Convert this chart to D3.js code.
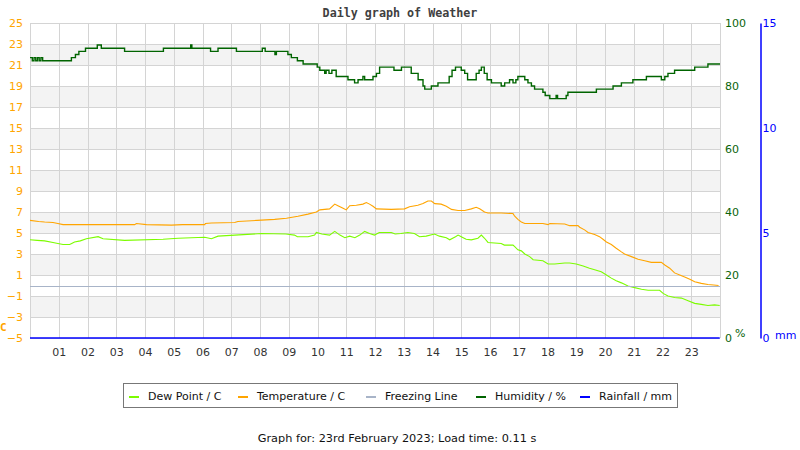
<!DOCTYPE html>
<html><head><meta charset="utf-8">
<script src="https://cdn.jsdelivr.net/npm/d3@7"></script>
<style>
body{margin:0;background:#fff;}
svg{display:block;font-family:"DejaVu Sans",sans-serif;}
</style></head>
<body><svg id="chart" width="800" height="450"></svg>
<script>
// ---------- data ----------
const hourLabels = ["01","02","03","04","05","06","07","08","09","10","11","12","13","14","15","16","17","18","19","20","21","22","23"];
const tempTicks = [25,23,21,19,17,15,13,11,9,7,5,3,1,-1,-3,-5];
const humTicks = [100,80,60,40,20,0];
const rainTicks = [15,10,5,0];

const tempTimes = [0,0.3,0.51,0.8,0.97,1.15,3.64,3.7,4.05,4.92,5.3,6.08,6.1,6.31,7.12,7.23,7.9,8.51,8.92,9.32,9.67,9.96,10.08,10.42,10.6,10.71,10.89,11.0,11.12,11.35,11.58,11.7,11.81,11.93,12.05,12.57,13.03,13.2,13.49,13.67,13.84,13.96,14.08,14.3,14.48,14.66,14.89,15.12,15.35,15.52,15.64,15.81,15.93,16.39,16.8,16.86,16.97,17.09,17.21,17.84,18.02,18.08,18.6,18.77,19.06,19.12,19.29,19.41,19.64,19.81,19.93,20.05,20.22,20.39,20.57,20.68,20.92,21.15,21.38,21.61,21.96,22.08,22.25,22.42,22.6,22.77,22.95,23.12,23.35,23.58,23.78,23.95];
const tempValues = [6.2,6.1,6.05,6.0,5.9,5.8,5.8,5.9,5.8,5.75,5.8,5.8,5.9,5.95,6.0,6.1,6.2,6.3,6.4,6.6,6.8,7.0,7.2,7.3,7.75,7.6,7.35,7.2,7.6,7.65,7.75,7.9,7.75,7.55,7.3,7.25,7.3,7.5,7.65,7.8,8.05,8.05,7.8,7.75,7.55,7.25,7.15,7.15,7.3,7.45,7.3,7.0,6.9,6.9,6.85,6.6,6.3,6.05,5.9,5.9,5.8,5.9,5.85,5.7,5.7,5.55,5.3,5.05,4.85,4.65,4.4,4.15,3.9,3.55,3.2,3.0,2.75,2.5,2.35,2.2,2.2,1.95,1.65,1.2,1.0,0.8,0.6,0.35,0.2,0.1,0.05,0.0];

const dewTimes = [0,0.25,0.51,0.8,0.97,1.15,1.38,1.45,1.55,1.75,1.96,2.37,2.54,3.29,4.63,5.15,6.08,6.31,6.54,7.12,8.05,8.9,9.2,9.3,9.67,9.9,9.96,10.15,10.42,10.6,10.78,10.95,11.12,11.3,11.47,11.64,11.81,11.98,12.15,12.57,12.7,12.9,13.14,13.37,13.55,13.78,14.07,14.24,14.48,14.6,14.8,14.89,15.0,15.17,15.35,15.58,15.7,15.81,15.93,16.39,16.5,16.8,16.86,16.97,17.09,17.21,17.38,17.5,17.84,18.02,18.25,18.6,18.77,19.0,19.24,19.46,19.64,19.87,20.05,20.22,20.39,20.57,20.8,21.03,21.27,21.5,21.9,22.02,22.19,22.42,22.66,22.89,23.12,23.35,23.58,23.81,23.99];
const dewValues = [4.35,4.3,4.25,4.1,4.0,3.9,3.9,4.0,4.15,4.25,4.45,4.65,4.45,4.3,4.4,4.5,4.6,4.45,4.7,4.8,4.95,4.9,4.8,4.65,4.65,4.8,5.05,4.9,4.8,5.15,4.8,4.55,4.7,4.55,4.8,5.15,4.95,4.8,5.05,5.05,4.9,4.95,5.05,4.95,4.65,4.7,4.9,4.7,4.55,4.35,4.65,4.8,4.65,4.4,4.35,4.5,4.8,4.5,4.1,4.0,3.85,3.85,3.7,3.4,3.3,3.0,2.75,2.45,2.35,2.05,2.05,2.15,2.15,2.05,1.85,1.65,1.5,1.3,1.0,0.7,0.45,0.25,-0.05,-0.2,-0.35,-0.45,-0.45,-0.75,-1.0,-1.15,-1.2,-1.45,-1.7,-1.8,-1.9,-1.85,-1.9];

const humTimes = [0,0.08,0.14,0.2,0.26,0.32,0.38,0.44,0.5,1.44,1.58,1.7,1.93,2.34,2.48,3.29,4.64,5.59,5.63,6.28,6.54,7.18,8.08,8.18,8.52,8.57,8.97,9.09,9.3,9.5,9.99,10.08,10.25,10.3,10.4,10.5,10.65,11.06,11.29,11.41,11.58,11.64,11.93,12.05,12.16,12.66,12.92,13.26,13.5,13.67,13.73,13.96,14.19,14.58,14.68,14.8,15.0,15.12,15.22,15.52,15.62,15.7,15.8,15.9,16.05,16.39,16.51,16.68,16.8,16.9,16.97,17.21,17.32,17.44,17.55,17.84,17.92,18.08,18.3,18.35,18.65,18.71,19.7,20.28,20.57,20.97,21.44,21.96,22.08,22.19,22.42,23.12,23.58,24];
const humValues = [89,88,89,88,89,88,89,88,88,89,90,91,92,93,92,91,92,93,92,91,92,91,92,91,90,91,90,89,88,87,86,85,84,85,84,85,83,82,81,82,83,82,83,84,86,85,86,84,82,80,79,80,81,83,85,86,85,84,82,84,85,86,84,82,81,80,81,82,81,82,83,82,81,80,79,78,77,76,77,76,77,78,79,80,81,82,83,82,83,84,85,86,87,87];

const rainTimes = [0,23.99];
const rainValues = [0,0];
const freezingValue = 0;

// ---------- layout ----------
const svg = d3.select("#chart");
const L = 30, R = 720, T = 23, B = 338;
const x = d3.scaleLinear().domain([0,24]).range([L,R]);
const yT = d3.scaleLinear().domain([-5,25]).range([B,T]);
const yH = d3.scaleLinear().domain([0,100]).range([B,T]);
const yR = d3.scaleLinear().domain([0,15]).range([B,T]);

const grid = "#d4d4d4";

// bands
for (let i = 1; i < tempTicks.length - 1; i += 2) {
  svg.append("rect")
    .attr("x", L).attr("width", R - L)
    .attr("y", yT(tempTicks[i])).attr("height", yT(tempTicks[i+1]) - yT(tempTicks[i]))
    .attr("fill", "#f3f3f3");
}
// horizontal grid
svg.append("g").selectAll("line").data(tempTicks).join("line")
  .attr("x1", L).attr("x2", R)
  .attr("y1", d => Math.round(yT(d)) + 0.5).attr("y2", d => Math.round(yT(d)) + 0.5)
  .attr("stroke", grid).attr("stroke-width", 1);
// vertical grid
const hourVals = d3.range(0, 25);
svg.append("g").selectAll("line").data(hourVals).join("line")
  .attr("x1", d => Math.round(x(d)) + 0.5).attr("x2", d => Math.round(x(d)) + 0.5)
  .attr("y1", T).attr("y2", B)
  .attr("stroke", grid).attr("stroke-width", 1);

// title
svg.append("text").attr("x", 400).attr("y", 17).attr("text-anchor", "middle")
  .attr("font-family", "DejaVu Sans Mono, monospace").attr("font-weight", "bold")
  .attr("font-size", 11.7).attr("fill", "#404040").text("Daily graph of Weather");

// left axis (temperature)
const gL = svg.append("g").attr("transform", `translate(${L},0)`)
  .call(d3.axisLeft(yT).tickValues(tempTicks).tickSize(0).tickPadding(7).tickFormat(d3.format("d")));
gL.select(".domain").remove();
gL.selectAll("text").attr("fill", "#ffa500").attr("font-size", 11).attr("font-family", "DejaVu Sans, sans-serif");
svg.append("text").attr("x", 0).attr("y", 331).attr("fill", "#ffa500")
  .attr("font-family", "DejaVu Sans Mono, monospace").attr("font-weight", "bold").attr("font-size", 11).text("C");

// right axis (humidity)
const gH = svg.append("g").attr("transform", `translate(${R},0)`)
  .call(d3.axisRight(yH).tickValues(humTicks).tickSize(0).tickPadding(5));
gH.select(".domain").remove();
gH.selectAll("text").attr("fill", "#0a640a").attr("font-size", 11).attr("font-family", "DejaVu Sans, sans-serif");
svg.append("text").attr("x", 735).attr("y", 337).attr("fill", "#0a640a")
  .attr("font-size", 11).text("%");

// rain axis
const gR = svg.append("g").attr("transform", `translate(760.5,0)`)
  .call(d3.axisRight(yR).tickValues(rainTicks).tickSize(0).tickPadding(2));
gR.select(".domain").attr("stroke", "#0000ff").attr("stroke-width", 1.5);
gR.selectAll("text").attr("fill", "#0000ff").attr("font-size", 11).attr("font-family", "DejaVu Sans, sans-serif");
svg.append("text").attr("x", 775).attr("y", 339).attr("fill", "#0000ff")
  .attr("font-size", 11).text("mm");

// x axis
const gX = svg.append("g").attr("transform", `translate(0,${B})`)
  .call(d3.axisBottom(x).tickValues(d3.range(1,24)).tickSize(0).tickPadding(10)
    .tickFormat((d,i) => hourLabels[i]));
gX.select(".domain").remove();
gX.selectAll("text").attr("fill", "#333").attr("font-size", 11).attr("font-family", "DejaVu Sans, sans-serif");

// series
const lineT = d3.line().x(d => x(d[0])).y(d => yT(d[1]));
svg.append("path").datum(dewTimes.map((t,i) => [t, dewValues[i]]))
  .attr("d", lineT).attr("fill", "none").attr("stroke", "#7cfc00").attr("stroke-width", 1.1);
svg.append("path").datum(tempTimes.map((t,i) => [t, tempValues[i]]))
  .attr("d", lineT).attr("fill", "none").attr("stroke", "#ffa500").attr("stroke-width", 1.1);
svg.append("line").attr("x1", L).attr("x2", R)
  .attr("y1", Math.round(yT(freezingValue)) + 0.5).attr("y2", Math.round(yT(freezingValue)) + 0.5)
  .attr("stroke", "#a8b4c8").attr("stroke-width", 1);
const lineH = d3.line().x(d => x(d[0])).y(d => yH(d[1])).curve(d3.curveStepAfter);
svg.append("path").datum(humTimes.map((t,i) => [t, humValues[i]]))
  .attr("d", lineH).attr("fill", "none").attr("stroke", "#006400").attr("stroke-width", 1.4);
const lineR = d3.line().x(d => x(d[0])).y(d => yR(d[1]));
svg.append("path").datum(rainTimes.map((t,i) => [t, rainValues[i]]))
  .attr("d", lineR).attr("fill", "none").attr("stroke", "#0000ff").attr("stroke-width", 1.5);

// legend
const legend = [
  {name: "Dew Point / C", color: "#7cfc00", x: 129},
  {name: "Temperature / C", color: "#ffa500", x: 238},
  {name: "Freezing Line", color: "#a8b4c8", x: 366},
  {name: "Humidity / %", color: "#006400", x: 476},
  {name: "Rainfall / mm", color: "#0000ff", x: 580}
];
svg.append("rect").attr("x", 123.5).attr("y", 383.5).attr("width", 554).attr("height", 24)
  .attr("fill", "#fff").attr("stroke", "#777").attr("stroke-width", 1);
const lg = svg.append("g").selectAll("g").data(legend).join("g");
lg.append("line").attr("x1", d => d.x).attr("x2", d => d.x + 10)
  .attr("y1", 397).attr("y2", 397).attr("stroke", d => d.color).attr("stroke-width", 2);
lg.append("text").attr("x", d => d.x + 19).attr("y", 399.5).attr("font-size", 11)
  .attr("fill", "#111").text(d => d.name);

// footer
svg.append("text").attr("x", 397).attr("y", 442).attr("text-anchor", "middle")
  .attr("font-size", 11.3).attr("fill", "#111")
  .text("Graph for: 23rd February 2023; Load time: 0.11 s");
</script></body></html>
